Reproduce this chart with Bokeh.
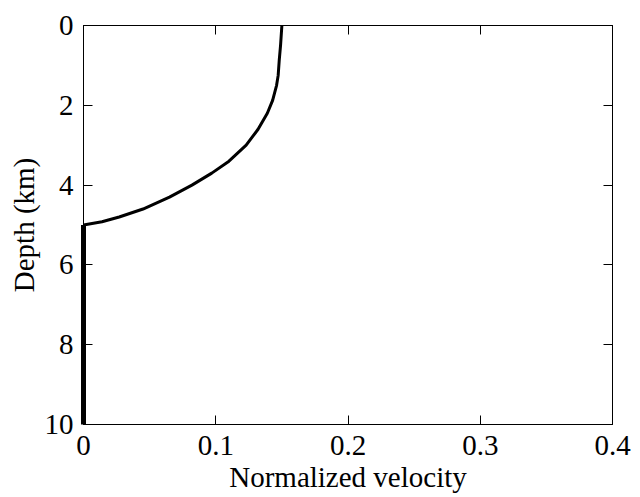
from bokeh.plotting import figure
from bokeh.models import Range1d, LinearAxis, FixedTicker
from bokeh.embed import file_html
from bokeh.resources import INLINE

# Velocity profile with depth (normalized velocity vs km)
depth_km = [0.0, 0.5, 0.875, 1.25, 1.5, 1.875, 2.2, 2.6, 3.0, 3.4, 3.7,
            4.0, 4.3, 4.6, 4.8, 4.92, 5.0]
velocity = [0.150, 0.149, 0.148, 0.1472, 0.146, 0.143, 0.139, 0.132, 0.123,
            0.110, 0.097, 0.082, 0.065, 0.045, 0.027, 0.014, 0.0]

# Below 5 km the velocity stays at zero
deep_depth_km = [5.0, 10.0]
deep_velocity = [0.0, 0.0]

x_ticks = [0, 0.1, 0.2, 0.3, 0.4]
y_ticks = [0, 2, 4, 6, 8, 10]

FONT = "Liberation Serif"
FONT_SIZE = "29px"

p = figure(width=640, height=497, output_backend="svg", toolbar_location=None,
           x_range=Range1d(0, 0.4), y_range=Range1d(10, 0),
           min_border_left=83, min_border_right=28,
           min_border_top=25, min_border_bottom=73)

p.xgrid.visible = False
p.ygrid.visible = False
p.outline_line_color = "black"
p.outline_line_width = 1
p.background_fill_color = "white"
p.border_fill_color = "white"


def style_axis(ax, ticks, show_labels=True):
    ax.ticker = FixedTicker(ticks=ticks)
    ax.major_tick_in = 9
    ax.major_tick_out = 0
    ax.minor_tick_line_color = None
    ax.axis_line_color = "black"
    ax.major_tick_line_color = "black"
    ax.major_label_text_font = FONT
    ax.axis_label_text_font = FONT
    ax.axis_label_text_font_style = "normal"
    ax.axis_label_text_font_size = FONT_SIZE
    ax.axis_label_text_color = "black"
    if show_labels:
        ax.major_label_text_font_size = FONT_SIZE
        ax.major_label_text_color = "black"
    else:
        # tick marks only on the mirrored sides of the box
        ax.major_label_text_font_size = "1px"
        ax.major_label_text_color = None
        ax.major_label_standoff = 0


p.xaxis.axis_label = "Normalized velocity"
p.yaxis.axis_label = "Depth (km)"
style_axis(p.xaxis[0], x_ticks)
style_axis(p.yaxis[0], y_ticks)
p.xaxis.major_label_standoff = 11
p.xaxis.axis_label_standoff = 3
p.yaxis.major_label_standoff = 10
p.yaxis.axis_label_standoff = 2

top_axis = LinearAxis()
style_axis(top_axis, x_ticks, show_labels=False)
p.add_layout(top_axis, "above")

right_axis = LinearAxis()
style_axis(right_axis, y_ticks, show_labels=False)
p.add_layout(right_axis, "right")

p.line(velocity, depth_km, line_color="black", line_width=3)
p.line(deep_velocity, deep_depth_km, line_color="black", line_width=5,
       level="overlay")

open("out.html", "w").write(file_html(p, INLINE))
